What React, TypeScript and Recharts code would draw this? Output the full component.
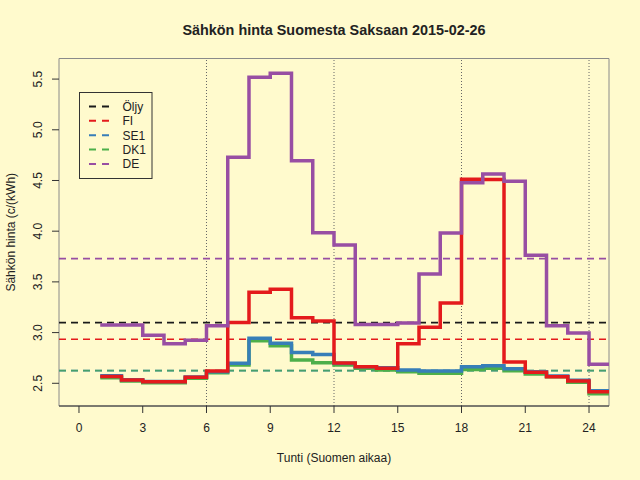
import React from 'react';
import { LineChart, Line, XAxis, YAxis, ReferenceLine, ReferenceArea, Legend } from 'recharts';

const hours = [1, 2, 3, 4, 5, 6, 7, 8, 9, 10, 11, 12, 13, 14, 15, 16, 17, 18, 19, 20, 21, 22, 23, 24];
const fiPrice = [2.566, 2.533, 2.516, 2.516, 2.56, 2.62, 3.10, 3.397, 3.427, 3.147, 3.114, 2.70, 2.664, 2.648, 2.89, 3.052, 3.292, 4.512, 4.51, 2.71, 2.608, 2.565, 2.523, 2.417];
const se1Price = [2.575, 2.535, 2.518, 2.518, 2.562, 2.615, 2.697, 2.944, 2.894, 2.804, 2.784, 2.697, 2.664, 2.654, 2.631, 2.621, 2.621, 2.664, 2.674, 2.644, 2.615, 2.572, 2.53, 2.427];
const dk1Price = [2.555, 2.522, 2.505, 2.505, 2.55, 2.605, 2.68, 2.92, 2.871, 2.73, 2.703, 2.68, 2.648, 2.631, 2.615, 2.599, 2.599, 2.635, 2.648, 2.624, 2.592, 2.565, 2.51, 2.398];
const dePrice = [3.075, 3.075, 2.973, 2.89, 2.924, 3.068, 4.73, 5.518, 5.557, 4.695, 3.985, 3.864, 3.08, 3.08, 3.095, 3.578, 3.982, 4.478, 4.564, 4.492, 3.762, 3.068, 2.996, 2.687];

const legendNames = ['Öljy', 'FI', 'SE1', 'DK1', 'DE'];
const legendColors = ['#1a1a1a', '#E41A1C', '#377EB8', '#4DAF4A', '#984EA3'];
const averageLevels = [3.098, 2.934, 2.624, 2.624, 3.729];

const xTicks = [0, 3, 6, 9, 12, 15, 18, 21, 24];
const yTicks = [2.5, 3.0, 3.5, 4.0, 4.5, 5.0, 5.5];
const guideHours = [6, 12, 18, 24];
const xDomain = [-0.94, 24.94];
const yDomain = [2.276, 5.703];

const titleText = 'Sähkön hinta Suomesta Saksaan 2015-02-26';
const xTitle = 'Tunti (Suomen aikaa)';
const yTitle = 'Sähkön hinta (c/(kWh)';

const rows = hours.map((h, i) => ({ h, FI: fiPrice[i], SE1: se1Price[i], DK1: dk1Price[i], DE: dePrice[i] }));
rows.push({ ...rows[rows.length - 1], h: hours[hours.length - 1] + 1 });

const FONT = '"Liberation Sans", Arial, Helvetica, sans-serif';
const BG = '#FFFACD';
const TXT = '#222222';

const XTick = (props: any) => {
  const { x, y, payload } = props;
  return (
    <text x={x} y={y} dy={18.5} textAnchor="middle" fontSize={12} fontFamily={FONT} fill={TXT}>
      {payload.value}
    </text>
  );
};

const YTick = (props: any) => {
  const { x, y, payload } = props;
  const bx = x - 10;
  return (
    <text x={bx} y={y} transform={`rotate(-90, ${bx}, ${y})`} textAnchor="middle" fontSize={12} fontFamily={FONT} fill={TXT}>
      {Number(payload.value).toFixed(1)}
    </text>
  );
};

const LegendBox = () => (
  <svg width={76} height={90} style={{ display: 'block' }}>
    <rect x={0.5} y={0.5} width={72.5} height={86} fill="none" stroke="#333" strokeWidth={1} />
    {legendNames.map((name, i) => (
      <g key={name}>
        <line x1={10} x2={30} y1={14.4 + i * 14.4} y2={14.4 + i * 14.4} stroke={legendColors[i]} strokeWidth={2} strokeDasharray="7 6" />
        <text x={43.5} y={14.4 + i * 14.4} dy={4.3} fontSize={12} fontFamily={FONT} fill={TXT}>
          {name}
        </text>
      </g>
    ))}
  </svg>
);

export default function App() {
  return (
    <div style={{ position: 'absolute', left: 0, top: 0, width: 640, height: 480, background: BG, overflow: 'hidden' }}>
      <LineChart width={640} height={480} data={rows} margin={{ top: 58.5, right: 31, left: 0, bottom: 0 }}>
        <ReferenceArea x1={xDomain[0]} x2={xDomain[1]} y1={yDomain[0]} y2={yDomain[1]} fill="none" stroke="#8a8a8a" strokeWidth={1} ifOverflow="visible" />
        <XAxis
          type="number"
          dataKey="h"
          domain={xDomain}
          allowDataOverflow
          ticks={xTicks}
          interval={0}
          height={74}
          tickSize={7}
          tickMargin={0}
          tick={<XTick />}
          axisLine={{ stroke: '#333' }}
          tickLine={{ stroke: '#333' }}
          label={(p: any) => {
            const vb = p.viewBox || {};
            return (
              <text x={vb.x + vb.width / 2} y={461.5} textAnchor="middle" fontSize={12} fontFamily={FONT} fill={TXT}>
                {xTitle}
              </text>
            );
          }}
        />
        <YAxis
          type="number"
          domain={yDomain}
          allowDataOverflow
          ticks={yTicks}
          interval={0}
          width={59}
          tickSize={7}
          tickMargin={0}
          tick={<YTick />}
          axisLine={false}
          tickLine={{ stroke: '#333' }}
          label={(p: any) => {
            const vb = p.viewBox || {};
            const cy = vb.y + vb.height / 2;
            return (
              <text x={14.5} y={cy} transform={`rotate(-90, 14.5, ${cy})`} textAnchor="middle" fontSize={12} fontFamily={FONT} fill={TXT}>
                {yTitle}
              </text>
            );
          }}
        />
        {guideHours.map((g) => (
          <ReferenceLine key={`g${g}`} x={g} stroke="#666" strokeWidth={1} strokeDasharray="1 2" />
        ))}
        <ReferenceLine y={averageLevels[1]} stroke={legendColors[1]} strokeWidth={1.6} strokeDasharray="7 5" />
        <ReferenceLine y={averageLevels[2]} stroke={legendColors[2]} strokeWidth={1.8} strokeDasharray="7 5" />
        <ReferenceLine y={averageLevels[3]} stroke={legendColors[3]} strokeOpacity={0.7} strokeWidth={1.8} strokeDasharray="7 5" />
        <ReferenceLine y={averageLevels[4]} stroke={legendColors[4]} strokeWidth={1.6} strokeDasharray="7 5" />
        <ReferenceLine y={averageLevels[0]} stroke={legendColors[0]} strokeWidth={1.6} strokeDasharray="7 5" />
        <Line type="stepAfter" dataKey="DK1" stroke={legendColors[3]} strokeWidth={3.5} dot={false} isAnimationActive={false} />
        <Line type="stepAfter" dataKey="SE1" stroke={legendColors[2]} strokeWidth={3.5} dot={false} isAnimationActive={false} />
        <Line type="stepAfter" dataKey="FI" stroke={legendColors[1]} strokeWidth={3.5} dot={false} isAnimationActive={false} />
        <Line type="stepAfter" dataKey="DE" stroke={legendColors[4]} strokeWidth={3.5} dot={false} isAnimationActive={false} />
        <Legend
          layout="horizontal"
          verticalAlign="middle"
          align="center"
          wrapperStyle={{ left: 79, top: 92, width: 76, height: 90 }}
          content={() => <LegendBox />}
        />
      </LineChart>
      <svg width={640} height={50} style={{ position: 'absolute', left: 0, top: 0, pointerEvents: 'none' }}>
        <text x={334} y={35} textAnchor="middle" fontSize={14.4} fontWeight="bold" fontFamily={FONT} fill={TXT}>
          {titleText}
        </text>
      </svg>
    </div>
  );
}
